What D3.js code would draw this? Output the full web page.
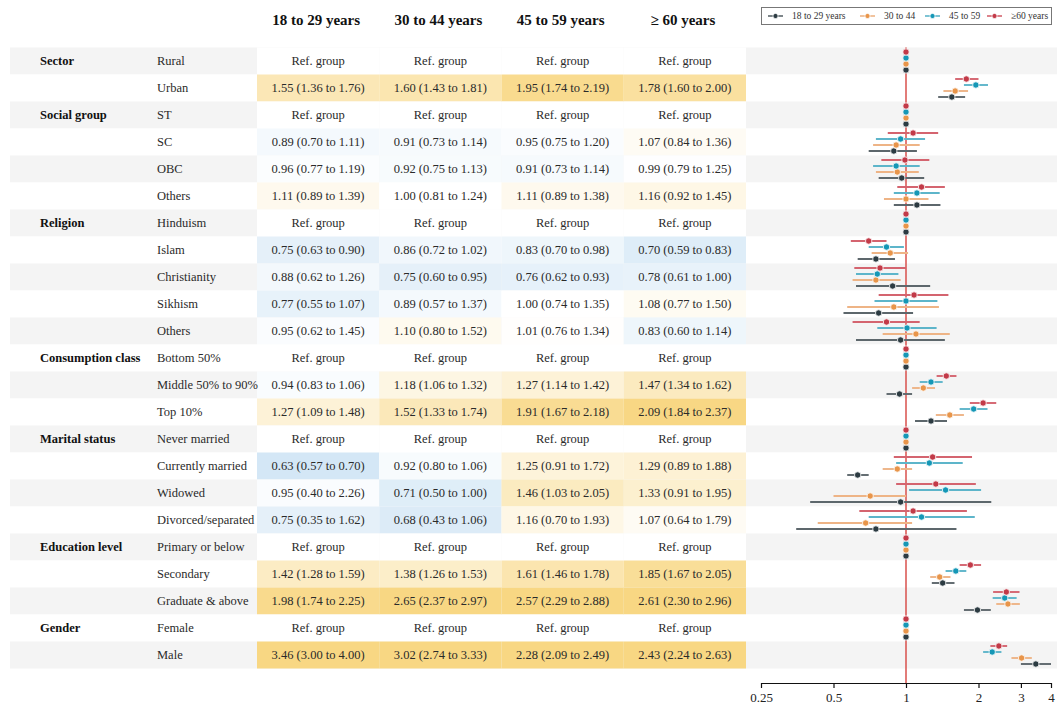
<!DOCTYPE html>
<html>
<head>
<meta charset="utf-8">
<script src="https://cdn.jsdelivr.net/npm/d3@7"></script>
<style>
  html, body { margin: 0; padding: 0; background: #fff; }
  svg { display: block; font-family: "Liberation Serif", "Times New Roman", serif; }
</style>
</head>
<body>
<svg id="chart" width="1057" height="706"></svg>
<script>
// Row structure: variable (shown on its first row) and level
const groupNames = ["Sector", "", "Social group", "", "", "", "Religion", "", "", "", "",
  "Consumption class", "", "", "Marital status", "", "", "", "Education level", "", "", "Gender", ""];
const levels = ["Rural", "Urban", "ST", "SC", "OBC", "Others", "Hinduism", "Islam", "Christianity",
  "Sikhism", "Others", "Bottom 50%", "Middle 50% to 90%", "Top 10%", "Never married",
  "Currently married", "Widowed", "Divorced/separated", "Primary or below", "Secondary",
  "Graduate & above", "Female", "Male"];

// Odds ratios [estimate, lower, upper]; null = reference group
const age18to29 = [null, [1.55, 1.36, 1.76], null, [0.89, 0.70, 1.11], [0.96, 0.77, 1.19], [1.11, 0.89, 1.39],
  null, [0.75, 0.63, 0.90], [0.88, 0.62, 1.26], [0.77, 0.55, 1.07], [0.95, 0.62, 1.45],
  null, [0.94, 0.83, 1.06], [1.27, 1.09, 1.48], null, [0.63, 0.57, 0.70], [0.95, 0.40, 2.26], [0.75, 0.35, 1.62],
  null, [1.42, 1.28, 1.59], [1.98, 1.74, 2.25], null, [3.46, 3.00, 4.00]];
const age30to44 = [null, [1.60, 1.43, 1.81], null, [0.91, 0.73, 1.14], [0.92, 0.75, 1.13], [1.00, 0.81, 1.24],
  null, [0.86, 0.72, 1.02], [0.75, 0.60, 0.95], [0.89, 0.57, 1.37], [1.10, 0.80, 1.52],
  null, [1.18, 1.06, 1.32], [1.52, 1.33, 1.74], null, [0.92, 0.80, 1.06], [0.71, 0.50, 1.00], [0.68, 0.43, 1.06],
  null, [1.38, 1.26, 1.53], [2.65, 2.37, 2.97], null, [3.02, 2.74, 3.33]];
const age45to59 = [null, [1.95, 1.74, 2.19], null, [0.95, 0.75, 1.20], [0.91, 0.73, 1.14], [1.11, 0.89, 1.38],
  null, [0.83, 0.70, 0.98], [0.76, 0.62, 0.93], [1.00, 0.74, 1.35], [1.01, 0.76, 1.34],
  null, [1.27, 1.14, 1.42], [1.91, 1.67, 2.18], null, [1.25, 0.91, 1.72], [1.46, 1.03, 2.05], [1.16, 0.70, 1.93],
  null, [1.61, 1.46, 1.78], [2.57, 2.29, 2.88], null, [2.28, 2.09, 2.49]];
const age60plus = [null, [1.78, 1.60, 2.00], null, [1.07, 0.84, 1.36], [0.99, 0.79, 1.25], [1.16, 0.92, 1.45],
  null, [0.70, 0.59, 0.83], [0.78, 0.61, 1.00], [1.08, 0.77, 1.50], [0.83, 0.60, 1.14],
  null, [1.47, 1.34, 1.62], [2.09, 1.84, 2.37], null, [1.29, 0.89, 1.88], [1.33, 0.91, 1.95], [1.07, 0.64, 1.79],
  null, [1.85, 1.67, 2.05], [2.61, 2.30, 2.96], null, [2.43, 2.24, 2.63]];

const columnHeaders = ["18 to 29 years", "30 to 44 years", "45 to 59 years", "\u2265 60 years"];
const legendLabels = ["18 to 29 years", "30 to 44", "45 to 59", "\u226560 years"];
const axisTicks = [0.25, 0.5, 1, 2, 3, 4];

const series = [age18to29, age30to44, age45to59, age60plus];
const dotColors = ["#2c3b42", "#e8954a", "#1597b6", "#c23a48"];
const lineColors = ["#5d676c", "#eeb486", "#5db5ca", "#d4646f"];

const svg = d3.select("#chart");
const font = "\"Liberation Serif\", \"Times New Roman\", serif";

// Layout
const rowTop = 47.5, rowH = 27;
const rowY = d3.scaleBand().domain(d3.range(levels.length))
  .range([rowTop, rowTop + rowH * levels.length]).padding(0);
const colX = d3.scaleBand().domain(d3.range(columnHeaders.length)).range([257, 746]);
const x = d3.scaleLog().base(2).domain([0.25, 4]).range([761, 1051]);

// Cell fill: blue below 1, gold above 1, on a log scale
const fill = d3.scaleLinear()
  .domain([Math.log(0.6), 0, Math.log(2.1)])
  .range(["#d0e5f5", "#ffffff", "#f8d783"])
  .clamp(true);

// Alternating row stripes across the full width
svg.append("g").selectAll("rect").data(levels).join("rect")
  .attr("x", 10).attr("y", (d, i) => rowY(i))
  .attr("width", 1057 - 10).attr("height", rowY.bandwidth())
  .attr("fill", (d, i) => i % 2 === 0 ? "#f4f4f4" : "#ffffff");

// Value cells
const fmt = d3.format(".2f");
series.forEach((s, j) => {
  const g = svg.append("g");
  g.selectAll("rect").data(s).join("rect")
    .attr("x", colX(j)).attr("y", (d, i) => rowY(i))
    .attr("width", colX.bandwidth()).attr("height", rowY.bandwidth())
    .attr("fill", d => d ? fill(Math.log(d[0])) : "#ffffff");
  g.selectAll("text").data(s).join("text")
    .attr("x", colX(j) + colX.bandwidth() / 2)
    .attr("y", (d, i) => rowY(i) + rowH / 2)
    .attr("dy", "0.35em").attr("text-anchor", "middle")
    .attr("font-size", 12.5)
    .attr("fill", "#2a2a2a")
    .text(d => d ? `${fmt(d[0])} (${fmt(d[1])} to ${fmt(d[2])})` : "Ref. group");
});

// Column headers
svg.append("g").selectAll("text").data(columnHeaders).join("text")
  .attr("x", (d, j) => colX(j) + colX.bandwidth() / 2 - 2)
  .attr("y", 20).attr("dy", "0.35em").attr("text-anchor", "middle")
  .attr("font-size", 15).attr("font-weight", "bold").attr("fill", "#111")
  .text(d => d);

// Row labels
svg.append("g").selectAll("text").data(groupNames).join("text")
  .attr("x", 40).attr("y", (d, i) => rowY(i) + rowH / 2).attr("dy", "0.35em")
  .attr("font-size", 12.5).attr("font-weight", "bold").attr("fill", "#111")
  .text(d => d);
svg.append("g").selectAll("text").data(levels).join("text")
  .attr("x", 157).attr("y", (d, i) => rowY(i) + rowH / 2).attr("dy", "0.35em")
  .attr("font-size", 12.5).attr("fill", "#2a2a2a")
  .text(d => d);

// Forest plot
const axisY = 683;
svg.append("line")
  .attr("x1", x(1)).attr("x2", x(1)).attr("y1", rowTop).attr("y2", axisY)
  .attr("stroke", "#d8504c").attr("stroke-width", 1.5);

const offsets = [9, 3, -3, -9];
series.forEach((s, j) => {
  const g = svg.append("g");
  const pts = s.map((d, i) => ({ d, i })).filter(p => p.d);
  g.selectAll("line").data(pts).join("line")
    .attr("x1", p => x(p.d[1])).attr("x2", p => x(p.d[2]))
    .attr("y1", p => rowY(p.i) + rowH / 2 + offsets[j])
    .attr("y2", p => rowY(p.i) + rowH / 2 + offsets[j])
    .attr("stroke", lineColors[j]).attr("stroke-width", 1.9);
  g.selectAll("circle").data(s.map((d, i) => ({ v: d ? d[0] : 1, i }))).join("circle")
    .attr("cx", p => x(p.v))
    .attr("cy", p => rowY(p.i) + rowH / 2 + offsets[j])
    .attr("r", 3.2)
    .attr("fill", dotColors[j]).attr("stroke", "#fff").attr("stroke-width", 0.8);
});

// Axis
const axis = d3.axisBottom(x).tickValues(axisTicks).tickFormat(d => String(d))
  .tickSize(5).tickSizeOuter(0);
const ag = svg.append("g").attr("transform", `translate(0,${axisY})`).call(axis);
ag.select(".domain").attr("stroke", "#111").attr("stroke-width", 1.2);
ag.selectAll(".tick line").attr("stroke", "#111").attr("stroke-width", 1.2);
ag.selectAll(".tick text").attr("font-family", font).attr("font-size", 13)
  .attr("fill", "#222").attr("y", 10);

// Legend
const lg = svg.append("g");
lg.append("rect").attr("x", 761.5).attr("y", 7.5).attr("width", 290).attr("height", 17)
  .attr("fill", "#fff").attr("stroke", "#777").attr("stroke-width", 1);
const legendX = [768, 860, 925, 987];
legendLabels.forEach((lab, j) => {
  const cy = 16;
  lg.append("line").attr("x1", legendX[j]).attr("x2", legendX[j] + 15)
    .attr("y1", cy).attr("y2", cy)
    .attr("stroke", lineColors[j]).attr("stroke-width", 1.6);
  lg.append("circle").attr("cx", legendX[j] + 7.5).attr("cy", cy).attr("r", 2.6)
    .attr("fill", dotColors[j]).attr("stroke", "#fff").attr("stroke-width", 0.8);
  lg.append("text").attr("x", legendX[j] + 24).attr("y", cy).attr("dy", "0.35em")
    .attr("font-size", 9.5).attr("fill", "#333").text(lab);
});
</script>
</body>
</html>
